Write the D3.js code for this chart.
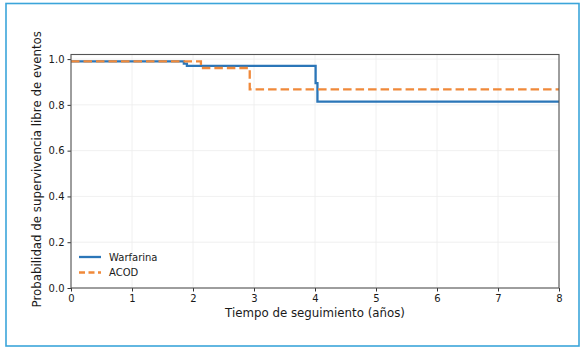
<!DOCTYPE html>
<html>
<head>
<meta charset="utf-8">
<script src="https://cdn.jsdelivr.net/npm/d3@7"></script>
<style>
  body { margin: 0; background: #fff; }
  svg { display: block; font-family: "DejaVu Sans", sans-serif; }
  .tick text { fill: #1a1a1a; }
</style>
</head>
<body>
<div id="chart"></div>
<script>
// Kaplan-Meier steps
const warfarinaTime = [0, 1.85, 1.9, 4.01, 4.04, 8];
const warfarinaSurv = [0.99, 0.98, 0.97, 0.895, 0.814, 0.814];
const acodTime = [0, 2.13, 2.93, 8];
const acodSurv = [0.99, 0.961, 0.868, 0.868];
const xTicks = [0, 1, 2, 3, 4, 5, 6, 7, 8];
const yTicks = [0, 0.2, 0.4, 0.6, 0.8, 1.0];
const seriesNames = ['Warfarina', 'ACOD'];

const width = 583, height = 348;
const margin = {top: 54.5, right: 24, bottom: 60, left: 71};

const svg = d3.select('#chart').append('svg')
  .attr('width', width)
  .attr('height', height);

// light blue frame round the figure
svg.append('rect')
  .attr('x', 6).attr('y', 3.5)
  .attr('width', 573).attr('height', 342.5)
  .attr('fill', 'none')
  .attr('stroke', '#3ba5da')
  .attr('stroke-width', 1.6);

const x = d3.scaleLinear().domain([0, 8]).range([margin.left, width - margin.right]);
const y = d3.scaleLinear().domain([0, 1.02]).range([height - margin.bottom, margin.top]);

// grid
const grid = svg.append('g');
grid.selectAll('.gx').data(xTicks).join('line')
  .attr('x1', d => x(d)).attr('x2', d => x(d))
  .attr('y1', y.range()[0]).attr('y2', y.range()[1])
  .attr('stroke', '#ececec').attr('stroke-width', 0.8);
grid.selectAll('.gy').data(yTicks).join('line')
  .attr('x1', x.range()[0]).attr('x2', x.range()[1])
  .attr('y1', d => y(d)).attr('y2', d => y(d))
  .attr('stroke', '#ececec').attr('stroke-width', 0.8);

// axes
const xAxis = svg.append('g')
  .attr('transform', `translate(0,${y.range()[0]})`)
  .call(d3.axisBottom(x).tickValues(xTicks).tickFormat(d3.format('d')).tickSize(3.5).tickPadding(3));
const yAxis = svg.append('g')
  .attr('transform', `translate(${x.range()[0]},0)`)
  .call(d3.axisLeft(y).tickValues(yTicks).tickFormat(d3.format('.1f')).tickSize(3.5).tickPadding(3));
[xAxis, yAxis].forEach(a => {
  a.selectAll('text').attr('font-size', 10).attr('font-family', '"DejaVu Sans", sans-serif');
  a.selectAll('line').attr('stroke', '#333');
  a.select('.domain').remove();
});

// series
const line = d3.line()
  .x(d => x(d[0]))
  .y(d => y(d[1]))
  .curve(d3.curveStepAfter);

const plot = svg.append('g');
plot.append('path')
  .datum(d3.zip(warfarinaTime, warfarinaSurv))
  .attr('d', line)
  .attr('fill', 'none')
  .attr('stroke', '#2b76b8')
  .attr('stroke-width', 2.3);
plot.append('path')
  .datum(d3.zip(acodTime, acodSurv))
  .attr('d', line)
  .attr('fill', 'none')
  .attr('stroke', '#f0893a')
  .attr('stroke-width', 2.3)
  .attr('stroke-dasharray', '8.5,4');

// plot frame
svg.append('rect')
  .attr('x', x.range()[0]).attr('y', y.range()[1])
  .attr('width', x.range()[1] - x.range()[0])
  .attr('height', y.range()[0] - y.range()[1])
  .attr('fill', 'none')
  .attr('stroke', '#555')
  .attr('stroke-width', 1.1);

// axis labels
svg.append('text')
  .attr('x', (x.range()[0] + x.range()[1]) / 2)
  .attr('y', 317)
  .attr('text-anchor', 'middle')
  .attr('font-size', 11.8)
  .attr('fill', '#1a1a1a')
  .text('Tiempo de seguimiento (años)');
svg.append('text')
  .attr('transform', `translate(41,${(y.range()[0] + y.range()[1]) / 2 - 2}) rotate(-90)`)
  .attr('text-anchor', 'middle')
  .attr('font-size', 11.8)
  .attr('fill', '#1a1a1a')
  .text('Probabilidad de supervivencia libre de eventos');

// legend
const legend = svg.append('g').attr('transform', 'translate(79,257)');
const legendStyle = [
  {color: '#2b76b8', dash: null},
  {color: '#f0893a', dash: '6,3.5'}
];
seriesNames.forEach((name, i) => {
  const g = legend.append('g').attr('transform', `translate(0,${i * 15.5})`);
  g.append('line')
    .attr('x1', 0).attr('x2', 22)
    .attr('stroke', legendStyle[i].color)
    .attr('stroke-width', 2.3)
    .attr('stroke-dasharray', legendStyle[i].dash);
  g.append('text')
    .attr('x', 30).attr('y', 3.5)
    .attr('font-size', 10)
    .attr('fill', '#1a1a1a')
    .text(name);
});
</script>
</body>
</html>
